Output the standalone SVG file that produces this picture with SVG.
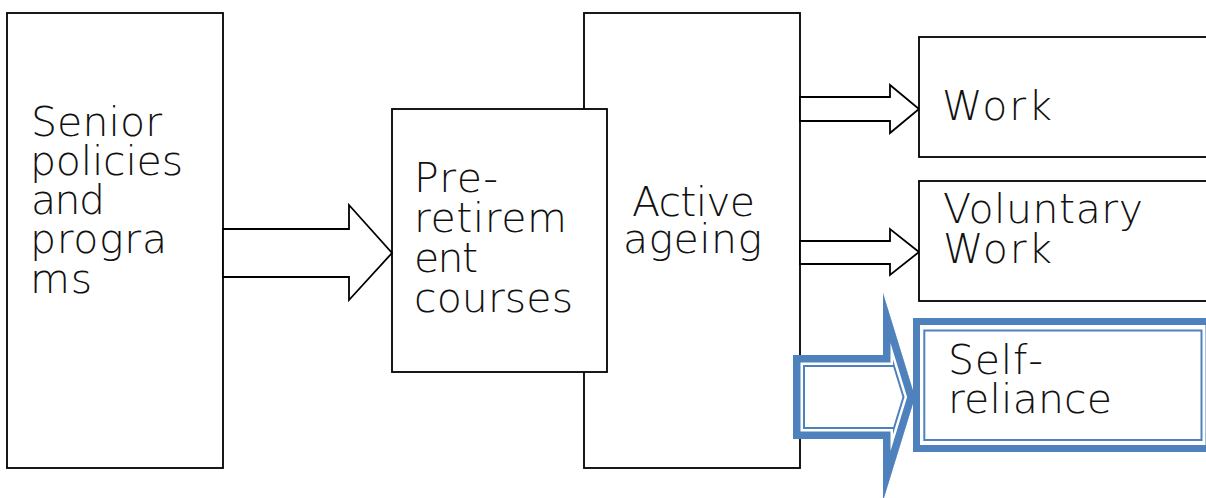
<svg xmlns="http://www.w3.org/2000/svg" width="1206" height="498" viewBox="0 0 1206 498">
  <style>
    .box { fill: #ffffff; stroke: #000000; stroke-width: 1.8; }
    .arrow { fill: #ffffff; stroke: #000000; stroke-width: 1.8; stroke-linejoin: miter; }
    .label { font-family: "DejaVu Sans", "Open Sans", "Liberation Sans", sans-serif; font-weight: 200; font-size: 41px; fill: #111111; }
    .blue { fill: none; stroke: #4f81bd; }
  </style>
  <defs>
    <clipPath id="self-arrow-clip">
      <polygon points="793,355 883,355 883,293 915,397 883,501 883,439 793,439"/>
    </clipPath>
  </defs>
  <rect width="1206" height="498" fill="#ffffff"/>

  <g id="senior-policies">
    <rect class="box" x="7" y="13" width="216" height="455"/>
    <text class="label" lengthAdjust="spacing">
      <tspan x="31" y="136" textLength="131">Senior</tspan>
      <tspan x="30" y="175" textLength="153">policies</tspan>
      <tspan x="31" y="214" textLength="74">and</tspan>
      <tspan x="30" y="253" textLength="137">progra</tspan>
      <tspan x="30" y="293" textLength="62">ms</tspan>
    </text>
  </g>

  <g id="active-ageing">
    <rect class="box" x="584" y="13" width="216" height="455"/>
    <text class="label">
      <tspan x="632" y="216" textLength="123">Active</tspan>
      <tspan x="623" y="253" textLength="139">ageing</tspan>
    </text>
  </g>

  <g id="pre-retirement">
    <rect class="box" x="392" y="109" width="215" height="263"/>
    <text class="label">
      <tspan x="414" y="192" textLength="84">Pre-</tspan>
      <tspan x="414" y="232" textLength="153">retirem</tspan>
      <tspan x="414" y="272" textLength="64">ent</tspan>
      <tspan x="414" y="312" textLength="159">courses</tspan>
    </text>
  </g>

  <g id="connectors">
    <!-- policies to pre-retirement courses -->
    <polygon class="arrow" points="223,229 349,229 349,205 392,253 349,300 349,277 223,277"/>
    <!-- active ageing to work -->
    <polygon class="arrow" points="800,97 890,97 890,85 919,109 890,133 890,121 800,121"/>
    <!-- active ageing to voluntary work -->
    <polygon class="arrow" points="800,241 890,241 890,229 919,252 890,275 890,264 800,264"/>
    <!-- active ageing to self-reliance: thick-thin double outline -->
    <g clip-path="url(#self-arrow-clip)">
      <polygon points="793,355 883,355 883,293 915,397 883,501 883,439 793,439" fill="#ffffff"/>
      <polygon class="blue" points="793,355 883,355 883,293 915,397 883,501 883,439 793,439" stroke-width="24"/>
      <polygon points="793,355 883,355 883,293 915,397 883,501 883,439 793,439" fill="none" stroke="#ffffff" stroke-width="20"/>
      <polygon class="blue" points="793,355 883,355 883,293 915,397 883,501 883,439 793,439" stroke-width="15"/>
    </g>
  </g>

  <g id="work">
    <rect class="box" x="919" y="37" width="300" height="120"/>
    <text class="label" x="942" y="120" textLength="110">Work</text>
  </g>

  <g id="voluntary-work">
    <rect class="box" x="919" y="181" width="300" height="120"/>
    <text class="label">
      <tspan x="943" y="223" textLength="200">Voluntary</tspan>
      <tspan x="943" y="263" textLength="109">Work</tspan>
    </text>
  </g>

  <g id="self-reliance">
    <rect x="916.5" y="321.5" width="292.5" height="127" fill="#ffffff" stroke="#4f81bd" stroke-width="7"/>
    <rect class="blue" x="924.3" y="330.5" width="277.2" height="109.5" stroke-width="2"/>
    <text class="label">
      <tspan x="948" y="374" textLength="95">Self-</tspan>
      <tspan x="948" y="413" textLength="164">reliance</tspan>
    </text>
  </g>
</svg>
